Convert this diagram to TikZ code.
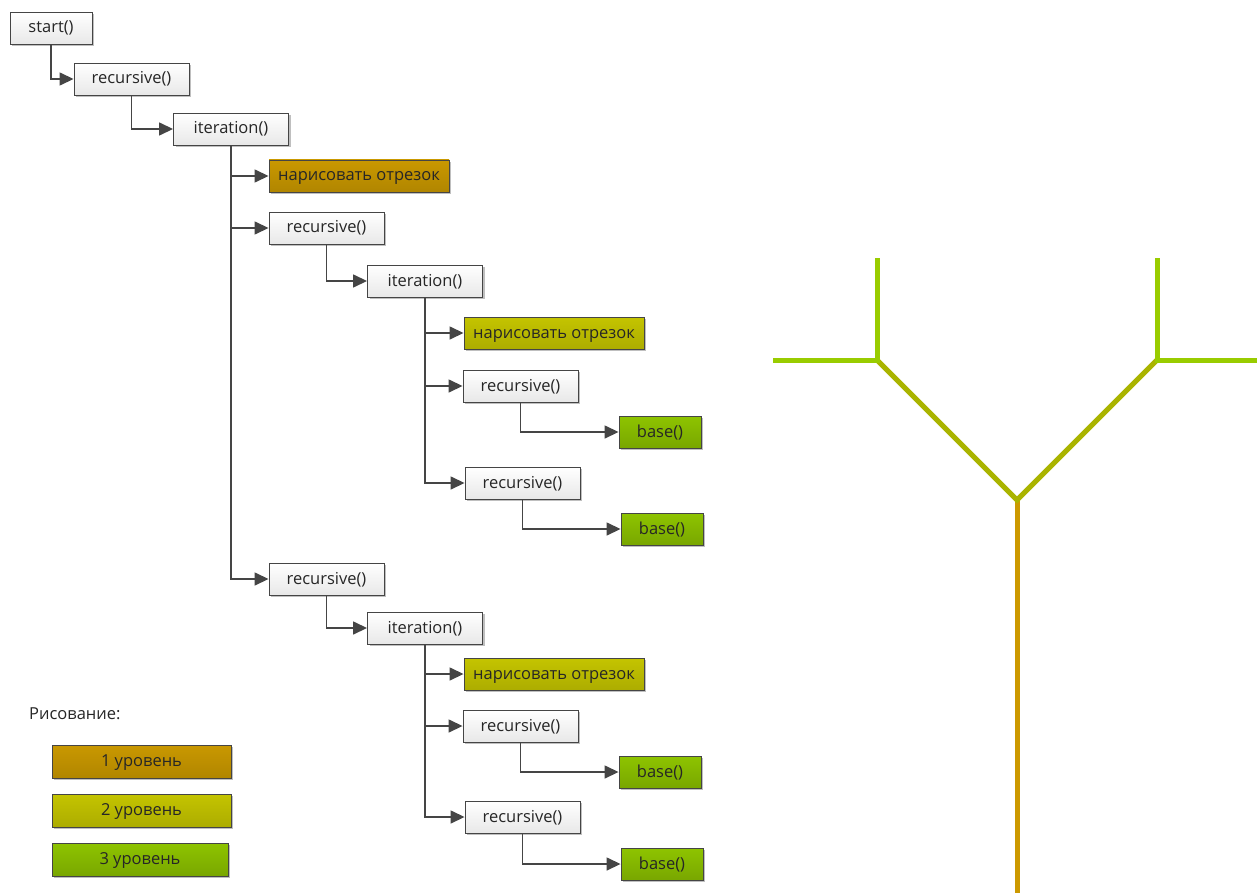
\documentclass[tikz,border=0pt]{standalone}
\usepackage{fontspec}
\setmainfont{Open Sans}
\usetikzlibrary{arrows.meta,shadows}
\definecolor{txt}{HTML}{262626}
\definecolor{ecol}{HTML}{454545}
\definecolor{colO}{HTML}{C99800}
\definecolor{colY}{HTML}{C4C400}
\definecolor{colG}{HTML}{8EC400}
\definecolor{trO}{HTML}{CC9900}
\definecolor{trY}{HTML}{AAB400}
\definecolor{trG}{HTML}{99CC00}
\tikzstyle{box}=[draw=ecol, line width=0.9pt, text=txt, inner sep=0pt, minimum height=32pt,
  font=\fontsize{16.5}{19}\selectfont, text height=12pt, text depth=2pt,
  drop shadow={shadow xshift=2pt, shadow yshift=-2pt, opacity=0.25, fill=black}]
\tikzstyle{fbox}=[box, minimum width=115pt, top color=white, bottom color=black!9]
\tikzstyle{sbox}=[fbox, minimum width=82pt]
\tikzstyle{obox}=[box, minimum width=180pt, top color=colO, bottom color=colO!88!black]
\tikzstyle{ybox}=[box, minimum width=180pt, top color=colY, bottom color=colY!88!black]
\tikzstyle{gbox}=[box, minimum width=82pt, top color=colG, bottom color=colG!85!black]
\tikzstyle{conn}=[draw=ecol, line width=1.5pt, -{Triangle[length=14pt,width=13pt]}]
\tikzstyle{limb}=[line width=5pt]
\begin{document}
\begin{tikzpicture}[x=1pt,y=-1pt]
  \useasboundingbox (0,0) rectangle (1257,893);
  % call tree
  \node[sbox] (st) at (51,28) {start()};
  \node[fbox] (r1) at (131.5,79) {recursive()};
  \node[fbox] (i1) at (231,129) {iteration()};
  \node[obox] (d1) at (359,176) {нарисовать отрезок};
  \node[fbox] (r2) at (326.5,228) {recursive()};
  \node[fbox] (i2) at (425,281) {iteration()};
  \node[ybox] (d2) at (554,333) {нарисовать отрезок};
  \node[fbox] (r3) at (520.5,386) {recursive()};
  \node[gbox] (b1) at (660,432) {base()};
  \node[fbox] (r4) at (522.5,483) {recursive()};
  \node[gbox] (b2) at (662,529) {base()};
  \node[fbox] (r5) at (326.5,579) {recursive()};
  \node[fbox] (i3) at (425,628) {iteration()};
  \node[ybox] (d3) at (554,674) {нарисовать отрезок};
  \node[fbox] (r6) at (520.5,726) {recursive()};
  \node[gbox] (b3) at (660,772) {base()};
  \node[fbox] (r7) at (522.5,817) {recursive()};
  \node[gbox] (b4) at (662,864) {base()};
  \draw[conn] (st.south) |- (r1.west);
  \draw[conn] (r1.south) |- (i1.west);
  \draw[conn] (i1.south) |- (d1.west);
  \draw[conn] (i1.south) |- (r2.west);
  \draw[conn] (i1.south) |- (r5.west);
  \draw[conn] (r2.south) |- (i2.west);
  \draw[conn] (i2.south) |- (d2.west);
  \draw[conn] (i2.south) |- (r3.west);
  \draw[conn] (i2.south) |- (r4.west);
  \draw[conn] (r3.south) |- (b1.west);
  \draw[conn] (r4.south) |- (b2.west);
  \draw[conn] (r5.south) |- (i3.west);
  \draw[conn] (i3.south) |- (d3.west);
  \draw[conn] (i3.south) |- (r6.west);
  \draw[conn] (i3.south) |- (r7.west);
  \draw[conn] (r6.south) |- (b3.west);
  \draw[conn] (r7.south) |- (b4.west);
  % legend
  \node[anchor=west, inner sep=0pt, text=txt, font=\fontsize{16.5}{19}\selectfont] (lg) at (29,714) {Рисование:};
  \node[obox, minimum width=179pt, minimum height=33pt] (l1) at (141.5,761.5) {1 уровень};
  \node[ybox, minimum width=179pt, minimum height=33pt] (l2) at (141.5,810.5) {2 уровень};
  \node[gbox, minimum width=176pt, minimum height=33pt] (l3) at (140,859.5) {3 уровень};
  % tree
  \coordinate (root) at (1017,893);
  \coordinate (fork) at (1017,500);
  \coordinate (lf) at (877,360);
  \coordinate (rf) at (1157,360);
  \draw[limb, trO] (root) -- (fork);
  \draw[limb, trY] (lf) -- (fork) -- (rf);
  \draw[limb, trG] (877,258) -- (lf) -- (773,360);
  \draw[limb, trG] (1157,258) -- (rf) -- (1257,360);
\end{tikzpicture}
\end{document}
